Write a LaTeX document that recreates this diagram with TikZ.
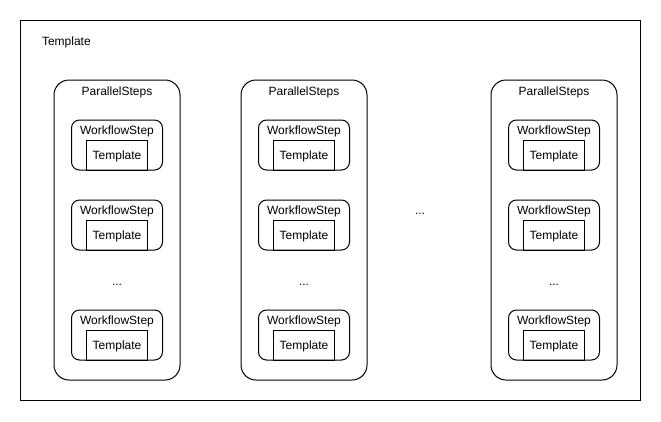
\documentclass[tikz,border=0pt]{standalone}
\usepackage{fontspec}
\setmainfont{Liberation Sans}
\begin{document}
\begin{tikzpicture}[x=1pt,y=-1pt,
  every node/.style={font=\fontsize{12}{14}\selectfont, inner sep=0pt, outer sep=0pt},
  outerbox/.style={draw=black, line width=1pt},
  psbox/.style={draw=black, line width=1pt, rounded corners=15pt, minimum width=126pt, minimum height=300pt},
  wsbox/.style={draw=black, line width=1pt, rounded corners=8pt, minimum width=91pt, minimum height=50pt},
  tbox/.style={draw=black, line width=1pt, minimum width=60.5pt, minimum height=30pt},
  lbl/.style={anchor=base}
]
\useasboundingbox (0,0) rectangle (661,421);
\node[outerbox, minimum width=620pt, minimum height=380pt] (outer) at (330,210) {};
\node[lbl, anchor=base west] (outerlbl) at (42,45.5) {Template};

\foreach \c/\cx in {1/117,2/304,3/554} {
  \node[psbox] (ps\c) at (\cx,230) {};
  \node[lbl] (ps\c lbl) at (\cx,95.5) {ParallelSteps};
  \foreach \r/\ry in {1/145,2/225,3/335} {
    \node[wsbox] (ws\c\r) at (\cx,\ry) {};
    \node[lbl] (ws\c\r lbl) at (\cx,\ry-10.5) {WorkflowStep};
    \node[tbox, anchor=south] (t\c\r) at (ws\c\r.south) {};
    \node[lbl] (t\c\r lbl) at (\cx,\ry+14.3) {Template};
  }
  \node[lbl] (dots\c) at (\cx,285) {...};
}
\node[lbl] (middots) at (420,214) {...};
\end{tikzpicture}
\end{document}
